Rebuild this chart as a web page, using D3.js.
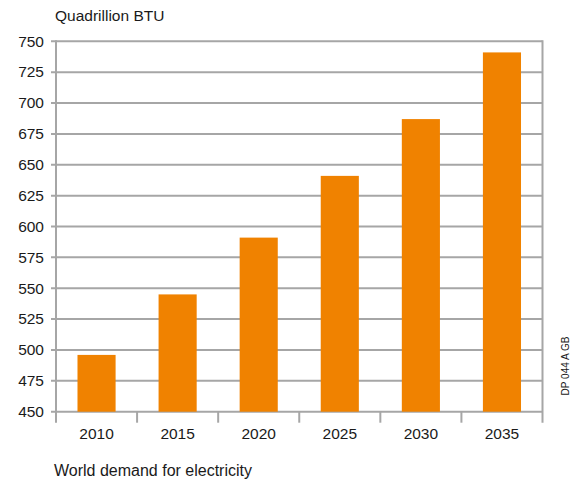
<!DOCTYPE html>
<html>
<head>
<meta charset="utf-8">
<script src="https://cdn.jsdelivr.net/npm/d3@7"></script>
<style>
  body { margin: 0; background: #fff; }
  text { font-family: "Liberation Sans", Arial, Helvetica, sans-serif; fill: #1a1a1a; }
</style>
</head>
<body>
<svg id="chart" width="579" height="480"></svg>
<script>
const categories = ["2010", "2015", "2020", "2025", "2030", "2035"];
const values = [496, 545, 591, 641, 687, 741];
const yTicks = [450, 475, 500, 525, 550, 575, 600, 625, 650, 675, 700, 725, 750];

(function () {
const svg = d3.select("#chart");
const mLeft = 56, mRight = 542.5, mTop = 41.3, mBottom = 411.7;
const grey = "#a6a6a6";

const x = d3.scaleBand().domain(categories).range([mLeft, mRight]).paddingInner(0.53).paddingOuter(0.265);
const y = d3.scaleLinear().domain([450, 750]).range([mBottom, mTop]);

// gridlines
svg.append("g").selectAll("line").data(yTicks).join("line")
  .attr("x1", mLeft - 5).attr("x2", mRight)
  .attr("y1", d => y(d)).attr("y2", d => y(d))
  .attr("stroke", grey).attr("stroke-width", 2);

// bars
svg.append("g").selectAll("rect").data(values).join("rect")
  .attr("x", (d, i) => x(categories[i]))
  .attr("width", x.bandwidth())
  .attr("y", d => y(d))
  .attr("height", d => y(450) - y(d))
  .attr("fill", "#f08200");

// axes lines
svg.append("line").attr("x1", mLeft).attr("x2", mLeft).attr("y1", mTop - 1).attr("y2", mBottom + 11)
  .attr("stroke", grey).attr("stroke-width", 2);
svg.append("line").attr("x1", mRight).attr("x2", mRight).attr("y1", mTop - 1).attr("y2", mBottom + 11)
  .attr("stroke", grey).attr("stroke-width", 2);

// x boundary ticks
const step = x.step();
const bounds = categories.slice(1).map(c => x(c) - x.paddingInner() * step / 2);
svg.append("g").selectAll("line").data(bounds).join("line")
  .attr("x1", d => d).attr("x2", d => d).attr("y1", mBottom).attr("y2", mBottom + 11)
  .attr("stroke", grey).attr("stroke-width", 2);

// y labels
svg.append("g").selectAll("text").data(yTicks).join("text")
  .attr("x", 44).attr("y", d => y(d) + 5.3)
  .attr("text-anchor", "end").attr("font-size", 15.5).text(d => d);

// x labels
svg.append("g").selectAll("text").data(categories).join("text")
  .attr("x", d => x(d) + x.bandwidth() / 2).attr("y", 438.5)
  .attr("text-anchor", "middle").attr("font-size", 15.5).text(d => d);

svg.append("text").attr("x", 55).attr("y", 21).attr("font-size", 15.5).text("Quadrillion BTU");
svg.append("text").attr("x", 54).attr("y", 475.5).attr("font-size", 16).text("World demand for electricity");
svg.append("text").attr("transform", "translate(569,366) rotate(-90)")
  .attr("text-anchor", "middle").attr("font-size", 10).text("DP 044 A GB");
})();
</script>
</body>
</html>
